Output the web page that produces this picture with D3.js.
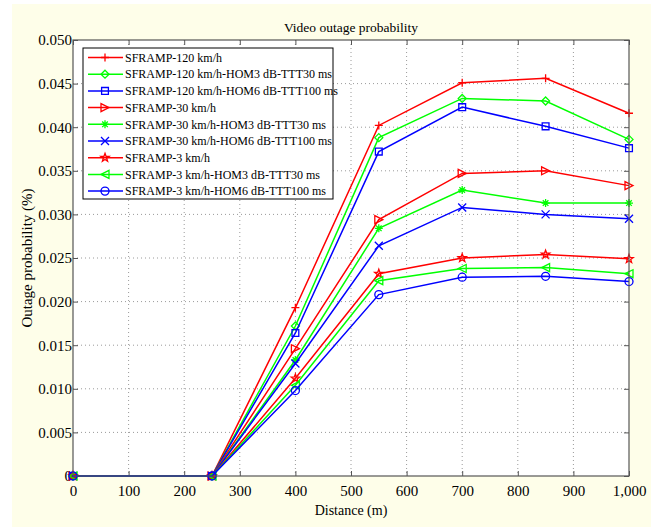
<!DOCTYPE html>
<html>
<head>
<meta charset="utf-8">
<script src="https://cdn.jsdelivr.net/npm/d3@7"></script>
<style>
  body { margin: 0; background: #ffffff; }
  text { font-family: "Liberation Serif", "Times New Roman", serif; fill: #000; }
</style>
</head>
<body>
<div id="chart"></div>
<script>
// Data
var distances = [0, 250, 400, 550, 700, 850, 1000];

var seriesNames = [
  "SFRAMP-120 km/h",
  "SFRAMP-120 km/h-HOM3 dB-TTT30 ms",
  "SFRAMP-120 km/h-HOM6 dB-TTT100 ms",
  "SFRAMP-30 km/h",
  "SFRAMP-30 km/h-HOM3 dB-TTT30 ms",
  "SFRAMP-30 km/h-HOM6 dB-TTT100 ms",
  "SFRAMP-3 km/h",
  "SFRAMP-3 km/h-HOM3 dB-TTT30 ms",
  "SFRAMP-3 km/h-HOM6 dB-TTT100 ms"
];

var sfr120 = [0, 0, 0.0193, 0.0402, 0.0451, 0.0456, 0.0416];
var sfr120hom3 = [0, 0, 0.0172, 0.0388, 0.0433, 0.0430, 0.0386];
var sfr120hom6 = [0, 0, 0.0164, 0.0372, 0.0423, 0.0401, 0.0376];
var sfr30 = [0, 0, 0.0146, 0.0294, 0.0347, 0.0350, 0.0333];
var sfr30hom3 = [0, 0, 0.0133, 0.0284, 0.0328, 0.0313, 0.0313];
var sfr30hom6 = [0, 0, 0.0129, 0.0264, 0.0308, 0.0300, 0.0295];
var sfr3 = [0, 0, 0.0112, 0.0232, 0.0250, 0.0254, 0.0249];
var sfr3hom3 = [0, 0, 0.0104, 0.0224, 0.0238, 0.0239, 0.0232];
var sfr3hom6 = [0, 0, 0.0098, 0.0208, 0.0228, 0.0229, 0.0223];

var seriesValues = [sfr120, sfr120hom3, sfr120hom6, sfr30, sfr30hom3, sfr30hom6, sfr3, sfr3hom3, sfr3hom6];
var seriesColors = ["#ff0000", "#00ff00", "#0000ff", "#ff0000", "#00ff00", "#0000ff", "#ff0000", "#00ff00", "#0000ff"];
var seriesMarkers = ["plus", "diamond", "square", "triRight", "asterisk", "cross", "star", "triLeft", "circle"];

var xTicks = [0, 100, 200, 300, 400, 500, 600, 700, 800, 900, 1000];
var yTicks = [0, 0.005, 0.010, 0.015, 0.020, 0.025, 0.030, 0.035, 0.040, 0.045, 0.050];

var svgWidth = 651;
var svgHeight = 527;

var margin = { top: 40, right: 22, bottom: 51, left: 73 };
var width = svgWidth - margin.left - margin.right;
var height = svgHeight - margin.top - margin.bottom;

var svg = d3.select("#chart")
  .append("svg")
  .attr("width", svgWidth)
  .attr("height", svgHeight);

// pale yellow figure background
svg.append("rect")
  .attr("x", 12)
  .attr("y", 4)
  .attr("width", svgWidth - 12)
  .attr("height", svgHeight - 4)
  .attr("fill", "#fefee9");

var chartGroup = svg.append("g")
  .attr("transform", `translate(${margin.left}, ${margin.top})`);

chartGroup.append("rect")
  .attr("width", width)
  .attr("height", height)
  .attr("fill", "#ffffff");

var xScale = d3.scaleLinear().domain([0, 1000]).range([0, width]);
var yScale = d3.scaleLinear().domain([0, 0.05]).range([height, 0]);

// dotted grid
chartGroup.append("g")
  .selectAll("line")
  .data(xTicks.slice(1, -1))
  .enter()
  .append("line")
  .attr("x1", d => xScale(d))
  .attr("x2", d => xScale(d))
  .attr("y1", 0)
  .attr("y2", height)
  .attr("stroke", "#9a9a9a")
  .attr("stroke-dasharray", "1,3");

chartGroup.append("g")
  .selectAll("line")
  .data(yTicks.slice(1, -1))
  .enter()
  .append("line")
  .attr("y1", d => yScale(d))
  .attr("y2", d => yScale(d))
  .attr("x1", 0)
  .attr("x2", width)
  .attr("stroke", "#9a9a9a")
  .attr("stroke-dasharray", "1,3");

// axes, ticks pointing into the plot
var fmtY = d => d === 0 ? "0" : d3.format(".3f")(d);

var bottomAxis = d3.axisBottom(xScale).tickValues(xTicks).tickSize(-5).tickPadding(9).tickFormat(d3.format(","));
var leftAxis = d3.axisLeft(yScale).tickValues(yTicks).tickSize(-5).tickPadding(1).tickFormat(fmtY);
var topAxis = d3.axisTop(xScale).tickValues(xTicks).tickSize(-5).tickFormat("");
var rightAxis = d3.axisRight(yScale).tickValues(yTicks).tickSize(-5).tickFormat("");

function styleAxis(g) {
  g.select(".domain").remove();
  g.selectAll(".tick line").attr("stroke", "#555");
  g.selectAll(".tick text")
    .style("font-family", "'Liberation Serif', 'Times New Roman', serif")
    .style("font-size", "15px")
    .attr("fill", "#000");
}

chartGroup.append("g").attr("transform", `translate(0, ${height})`).call(bottomAxis).call(styleAxis);
chartGroup.append("g").call(leftAxis).call(styleAxis);
chartGroup.append("g").call(topAxis).call(styleAxis);
chartGroup.append("g").attr("transform", `translate(${width}, 0)`).call(rightAxis).call(styleAxis);

// marker shapes (MATLAB style, outlined)
function markerPath(type, s) {
  switch (type) {
    case "plus": return `M${-s},0H${s}M0,${-s}V${s}`;
    case "cross": return `M${-s},${-s}L${s},${s}M${-s},${s}L${s},${-s}`;
    case "asterisk":
      var t = s * 0.7;
      return `M${-s},0H${s}M0,${-s}V${s}M${-t},${-t}L${t},${t}M${-t},${t}L${t},${-t}`;
    case "diamond": return `M0,${-s}L${s},0L0,${s}L${-s},0Z`;
    case "square":
      var q = s * 0.85;
      return `M${-q},${-q}H${q}V${q}H${-q}Z`;
    case "triRight": return `M${s},0L${-s},${-s}L${-s},${s}Z`;
    case "triLeft": return `M${-s},0L${s},${-s}L${s},${s}Z`;
    case "circle": return `M${s},0A${s},${s} 0 1,1 ${-s},0A${s},${s} 0 1,1 ${s},0Z`;
    case "star":
      var pts = [];
      for (var i = 0; i < 10; i++) {
        var r = i % 2 === 0 ? s * 1.1 : s * 0.45;
        var a = -Math.PI / 2 + i * Math.PI / 5;
        pts.push([r * Math.cos(a), r * Math.sin(a)]);
      }
      return "M" + pts.map(p => p.join(",")).join("L") + "Z";
  }
}

var line = d3.line()
  .x((d, i) => xScale(distances[i]))
  .y(d => yScale(d));

seriesValues.forEach(function (vals, k) {
  chartGroup.append("path")
    .datum(vals)
    .attr("d", line)
    .attr("fill", "none")
    .attr("stroke", seriesColors[k])
    .attr("stroke-width", 1.5);

  chartGroup.append("g")
    .selectAll("path")
    .data(vals)
    .enter()
    .append("path")
    .attr("transform", (d, i) => `translate(${xScale(distances[i])}, ${yScale(d)})`)
    .attr("d", markerPath(seriesMarkers[k], 4))
    .attr("fill", "none")
    .attr("stroke", seriesColors[k])
    .attr("stroke-width", 1.3);
});

// plot box
chartGroup.append("rect")
  .attr("width", width)
  .attr("height", height)
  .attr("fill", "none")
  .attr("stroke", "#555")
  .attr("stroke-width", 1.2);

// title and axis labels
svg.append("text")
  .attr("x", margin.left + width / 2)
  .attr("y", 32)
  .attr("text-anchor", "middle")
  .style("font-size", "13.5px")
  .text("Video outage probability");

svg.append("text")
  .attr("x", margin.left + width / 2)
  .attr("y", 515)
  .attr("text-anchor", "middle")
  .style("font-size", "14px")
  .text("Distance (m)");

svg.append("text")
  .attr("transform", `translate(32, ${margin.top + height / 2}) rotate(-90)`)
  .attr("text-anchor", "middle")
  .style("font-size", "15px")
  .text("Outage probability (%)");

// legend
var legend = chartGroup.append("g")
  .attr("transform", "translate(10, 8)");

legend.append("rect")
  .attr("width", 250)
  .attr("height", 151)
  .attr("fill", "#ffffff")
  .attr("stroke", "#000")
  .attr("stroke-width", 1);

var legendRows = legend.selectAll(".row")
  .data(seriesNames)
  .enter()
  .append("g")
  .attr("transform", (d, i) => `translate(0, ${9.5 + i * 16.7})`);

legendRows.append("line")
  .attr("x1", 5)
  .attr("x2", 40)
  .attr("stroke", (d, i) => seriesColors[i])
  .attr("stroke-width", 1.5);

legendRows.append("path")
  .attr("transform", "translate(22, 0)")
  .attr("d", (d, i) => markerPath(seriesMarkers[i], 4))
  .attr("fill", "none")
  .attr("stroke", (d, i) => seriesColors[i])
  .attr("stroke-width", 1.3);

legendRows.append("text")
  .attr("x", 42)
  .attr("dy", "0.35em")
  .style("font-size", "12px")
  .text(d => d);
</script>
</body>
</html>
